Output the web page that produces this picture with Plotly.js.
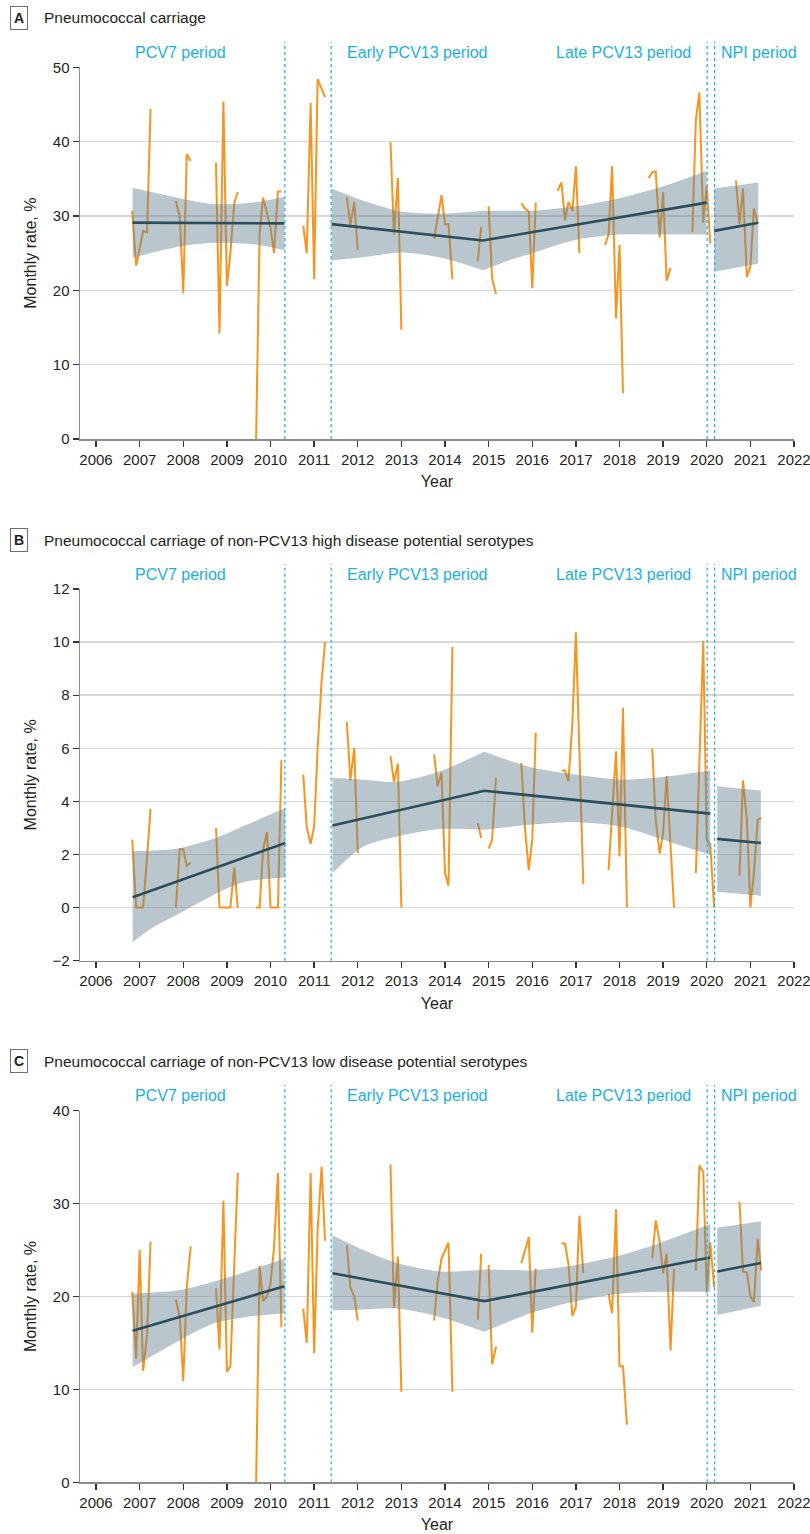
<!DOCTYPE html>
<html><head><meta charset="utf-8">
<script src="https://cdn.plot.ly/plotly-3.0.1.min.js"></script>
<style>html,body{margin:0;padding:0;background:#fff}</style>
</head><body><div id="chart" style="width:810px;height:1534px"></div>
<script>
// ---------- data ----------
const panelTitles = ['Pneumococcal carriage',
  'Pneumococcal carriage of non-PCV13 high disease potential serotypes',
  'Pneumococcal carriage of non-PCV13 low disease potential serotypes'];
const panelLetters = ['A','B','C'];
const periodLabels = ['PCV7 period','Early PCV13 period','Late PCV13 period','NPI period'];
const periodBoundaries = [2010.33, 2011.39, 2020.01, 2020.18];
const yearTicks = [2006,2007,2008,2009,2010,2011,2012,2013,2014,2015,2016,2017,2018,2019,2020,2021,2022];

const monthsA = [2006.83,2006.92,2007.00,2007.08,2007.17,2007.25,null,
 2007.83,2007.92,2008.00,2008.08,2008.17,null,
 2008.75,2008.83,2008.92,2009.00,2009.08,2009.17,2009.25,null,
 2009.67,2009.75,2009.83,2009.92,2010.00,2010.08,2010.17,2010.25,null,
 2010.75,2010.83,2010.92,2011.00,2011.08,2011.17,2011.25,null,
 2011.75,2011.83,2011.92,2012.00,null,
 2012.75,2012.83,2012.92,2013.00,null,
 2013.75,2013.83,2013.92,2014.00,2014.08,2014.17,null,
 2014.75,2014.83,null,2015.00,2015.08,2015.17,null,
 2015.75,2015.83,2015.92,2016.00,2016.08,null,
 2016.58,2016.67,2016.75,2016.83,2016.92,2017.00,2017.08,null,
 2017.67,2017.75,2017.83,2017.92,2018.00,2018.08,null,
 2018.67,2018.75,2018.83,2018.92,2019.00,2019.08,2019.17,null,
 2019.67,2019.75,2019.83,2019.92,2020.00,2020.08,null,
 2020.67,2020.75,2020.83,2020.92,2021.00,2021.08,2021.17];
const rateA = [30.7,23.3,25.6,28.0,27.8,44.4,null,
 32.0,29.9,19.6,38.3,37.4,null,
 37.2,14.2,45.4,20.6,25.0,31.8,33.2,null,
 0,27.7,32.5,30.4,28.4,25.0,33.3,33.3,null,
 28.7,25.0,45.2,21.5,48.4,47.0,46.0,null,
 32.5,28.8,31.9,25.4,null,
 39.9,27.5,35.1,14.7,null,
 26.9,29.9,32.8,28.9,28.9,21.5,null,
 23.9,28.5,null,31.3,21.6,19.5,null,
 31.7,31.0,30.6,20.3,31.8,null,
 33.4,34.5,29.4,31.9,30.7,36.7,25.0,null,
 26.1,27.5,36.7,16.2,26.1,6.2,null,
 35.1,35.9,36.0,27.1,33.2,21.3,23.0,null,
 27.8,42.9,46.6,29.1,34.0,26.3,null,
 34.8,28.9,33.7,21.8,23.2,31.0,29.0];

const monthsBC = [2006.83,2006.92,2007.00,2007.08,2007.17,2007.25,null,
 2007.83,2007.92,2008.00,2008.08,2008.17,null,
 2008.75,2008.83,2008.92,2009.00,2009.08,2009.17,2009.25,null,
 2009.67,2009.75,2009.83,2009.92,2010.00,2010.08,2010.17,2010.25,null,
 2010.75,2010.83,2010.92,2011.00,2011.08,2011.17,2011.25,null,
 2011.75,2011.83,2011.92,2012.00,null,
 2012.75,2012.83,2012.92,2013.00,null,
 2013.75,2013.83,2013.92,2014.00,2014.08,2014.17,null,
 2014.75,2014.83,null,2015.00,2015.08,2015.17,null,
 2015.75,2015.83,2015.92,2016.00,2016.08,null,
 2016.67,2016.75,2016.83,2016.92,2017.00,2017.08,2017.17,null,
 2017.75,2017.83,2017.92,2018.00,2018.08,2018.17,null,
 2018.75,2018.83,2018.92,2019.00,2019.08,2019.17,2019.25,null,
 2019.75,2019.83,2019.92,2020.00,2020.08,2020.17,null,
 2020.75,2020.83,2020.92,2021.00,2021.08,2021.17,2021.25];
const rateB = [2.56,0,0,0,1.9,3.72,null,
 0,2.2,2.2,1.57,1.7,null,
 3.0,0,0,0,0,1.52,0,null,
 0,0,2.2,2.85,0,0,0,5.57,null,
 5.01,3.03,2.4,3.06,6.0,8.5,10.0,null,
 6.99,4.79,6.02,2.05,null,
 5.71,4.74,5.42,0,null,
 5.77,4.57,5.08,1.30,0.82,9.82,null,
 3.19,2.62,null,2.22,2.56,4.89,null,
 5.45,3.06,1.42,2.56,6.59,null,
 5.16,5.16,4.76,6.96,10.37,5.6,0.89,null,
 1.42,3.7,5.89,1.93,7.53,0,null,
 5.99,3.31,2.03,2.81,4.95,2.3,0,null,
 1.30,5.67,10.04,2.56,2.37,0,null,
 1.20,4.79,3.31,0,1.3,3.31,3.38];
const rateC = [20.5,13.3,25.0,12.0,15.8,25.9,null,
 19.7,17.8,10.9,21.0,25.4,null,
 20.9,14.3,30.3,11.9,12.5,22.8,33.3,null,
 0,23.3,19.5,20.0,21.4,25.3,33.3,16.7,null,
 18.7,15.0,33.3,13.9,27.1,34.0,26.0,null,
 25.5,21.0,20.0,17.4,null,
 34.2,18.8,24.3,9.75,null,
 17.4,21.5,24.1,25.0,25.8,9.75,null,
 17.5,24.6,null,23.4,12.7,14.6,null,
 23.6,25.0,26.4,16.1,23.0,null,
 25.7,25.7,23.5,17.9,18.9,28.7,22.5,null,
 20.3,18.2,29.4,12.5,12.5,6.2,null,
 24.1,28.2,25.9,22.5,24.6,14.2,23.0,null,
 22.8,34.1,33.4,20.4,25.8,21.0,null,
 30.2,22.7,22.6,20.0,19.4,26.2,22.8];

// fitted trend lines
const fitA_x = [2006.84,2010.32,null,2011.40,2014.87,2020.00,null,2020.17,2021.18];
const fitA_y = [29.1,29.0,null,28.9,26.7,31.8,null,28.0,29.1];
const fitB_x = [2006.84,2010.34,null,2011.42,2014.90,2020.08,null,2020.24,2021.24];
const fitB_y = [0.39,2.43,null,3.09,4.40,3.54,null,2.59,2.43];
const fitC_x = [2006.84,2010.32,null,2011.42,2014.90,2020.08,null,2020.24,2021.24];
const fitC_y = [16.3,21.1,null,22.5,19.5,24.2,null,22.7,23.6];

// confidence bands (one list per period)
const bandA_x  = [[2006.84,2007.92,2008.69,2009.60,2010.32],[2011.40,2012.20,2013.00,2013.90,2014.87],[2014.87,2015.50,2016.00,2017.00,2018.00,2019.00,2020.00],[2020.17,2021.18]];
const bandA_hi = [[33.8,32.4,31.6,31.8,32.6],[33.7,31.9,30.6,30.3,30.7],[30.7,30.7,30.7,31.3,32.4,34.0,36.1],[33.7,34.5]];
const bandA_lo = [[24.4,25.9,26.4,26.2,25.4],[24.0,24.5,25.1,24.4,22.7],[22.7,24.1,25.0,26.8,27.5,27.5,27.5],[22.5,23.6]];
const bandB_x  = [[2006.84,2007.30,2007.92,2008.84,2009.45,2010.34],[2011.42,2012.13,2012.90,2013.89,2014.90],[2014.90,2015.94,2017.00,2018.00,2019.00,2020.08],[2020.24,2021.24]];
const bandB_hi = [[2.12,2.15,2.24,2.68,3.12,3.75],[4.89,4.82,4.74,5.14,5.87],[5.87,5.30,5.01,4.82,4.92,5.16],[4.57,4.41]];
const bandB_lo = [[-1.3,-0.75,-0.21,0.60,0.98,1.13],[1.30,2.30,2.68,2.96,2.93],[2.93,3.12,3.21,3.06,2.56,1.99],[0.60,0.45]];
const bandC_x  = [[2006.84,2007.92,2008.69,2009.45,2010.32],[2011.42,2012.13,2012.90,2013.89,2014.90],[2014.90,2015.56,2015.95,2017.00,2018.00,2019.00,2020.08],[2020.24,2021.24]];
const bandC_hi = [[20.3,20.7,21.6,22.7,24.1],[26.6,25.0,23.6,22.7,22.9],[22.9,22.85,22.8,23.4,24.4,25.9,27.8],[27.4,28.1]];
const bandC_lo = [[12.4,15.3,17.1,17.8,18.2],[18.5,18.6,18.7,17.8,16.2],[16.2,17.5,18.2,19.5,20.3,20.5,20.5],[18.0,19.0]];

const yRanges = [[0,50],[-2,12],[0,40]];
const yTickVals = [[0,10,20,30,40,50],[-2,0,2,4,6,8,10,12],[0,10,20,30,40]];

// ---------- styling / layout ----------
const H = 1534, W = 810;
const FONT = '"Liberation Sans", Arial, sans-serif';
const ORANGE = '#F7941D', FIT = '#2B4D5C', BAND = 'rgba(100,128,145,0.45)', CYAN = '#1AAFE6';
const plotTopPx = [67.3, 589, 1110.7], plotBotPx = [439, 960.7, 1482.3];
const titlePx = [18, 540, 1061], periodPx = [52, 574, 1095], dotTopPx = [42, 564, 1085];
const py = p => 1 - p / H;

const panels = [
  {months: monthsA, rate: rateA, fx: fitA_x, fy: fitA_y, bx: bandA_x, bh: bandA_hi, bl: bandA_lo},
  {months: monthsBC, rate: rateB, fx: fitB_x, fy: fitB_y, bx: bandB_x, bh: bandB_hi, bl: bandB_lo},
  {months: monthsBC, rate: rateC, fx: fitC_x, fy: fitC_y, bx: bandC_x, bh: bandC_hi, bl: bandC_lo}
];

const data = [];
const layout = {
  width: W, height: H, margin: {l:0, r:0, t:0, b:0},
  paper_bgcolor: '#fff', plot_bgcolor: '#fff', showlegend: false,
  font: {family: FONT, color: '#231f20', size: 15},
  annotations: [], shapes: []
};

panels.forEach((p, i) => {
  const sfx = i === 0 ? '' : String(i + 1);
  const xa = 'x' + sfx, ya = 'y' + sfx;
  data.push({x: p.months, y: p.rate, xaxis: xa, yaxis: ya, type: 'scatter', mode: 'lines',
    line: {color: ORANGE, width: 2}, connectgaps: false, hoverinfo: 'skip'});
  p.bx.forEach((bx, k) => {
    data.push({x: bx, y: p.bl[k], xaxis: xa, yaxis: ya, type: 'scatter', mode: 'lines',
      line: {width: 0, shape: 'spline', smoothing: 0.8}, hoverinfo: 'skip'});
    data.push({x: bx, y: p.bh[k], xaxis: xa, yaxis: ya, type: 'scatter', mode: 'lines',
      line: {width: 0, shape: 'spline', smoothing: 0.8}, fill: 'tonexty', fillcolor: BAND, hoverinfo: 'skip'});
  });
  data.push({x: p.fx, y: p.fy, xaxis: xa, yaxis: ya, type: 'scatter', mode: 'lines',
    line: {color: FIT, width: 2.6}, connectgaps: false, hoverinfo: 'skip'});

  layout['xaxis' + sfx] = {
    domain: [80 / W, 794 / W], anchor: ya, range: [2005.633, 2022.0],
    tickmode: 'array', tickvals: yearTicks, ticktext: yearTicks.map(String),
    ticklabeloverflow: 'allow',
    showgrid: false, zeroline: false, showline: true, linecolor: '#8c8c8c', linewidth: 1.5,
    ticks: 'outside', ticklen: 6, tickwidth: 1.3, tickcolor: '#333',
    tickfont: {family: FONT, size: 15, color: '#231f20'},
    title: {text: 'Year', font: {family: FONT, size: 16, color: '#231f20'}, standoff: 9}
  };
  layout['yaxis' + sfx] = {
    domain: [py(plotBotPx[i]), py(plotTopPx[i])], anchor: xa, range: yRanges[i],
    tickmode: 'array', tickvals: yTickVals[i],
    showgrid: true, gridcolor: '#d9d9d9', gridwidth: 1.5, zeroline: false,
    showline: true, linecolor: '#8c8c8c', linewidth: 1.5,
    ticks: 'outside', ticklen: 6, tickwidth: 1.3, tickcolor: '#333',
    tickfont: {family: FONT, size: 15, color: '#231f20'},
    title: {text: 'Monthly rate, %', font: {family: FONT, size: 16, color: '#231f20'}, standoff: 12}
  };

  // panel letter box + title
  layout.annotations.push({xref: 'paper', yref: 'paper', x: 18.5 / W, y: py(titlePx[i]),
    xanchor: 'center', yanchor: 'middle', text: '<b>' + panelLetters[i] + '</b>', showarrow: false,
    font: {family: FONT, size: 14, color: '#231f20'}, bordercolor: '#6d6e71', borderwidth: 1, borderpad: 3, bgcolor: '#fff'});
  layout.annotations.push({xref: 'paper', yref: 'paper', x: 42 / W, y: py(titlePx[i]),
    xanchor: 'left', yanchor: 'middle', text: panelTitles[i], showarrow: false,
    font: {family: FONT, size: 15.5, color: '#231f20'}});

  // period labels
  const labelX = [2006.84, 2011.71, 2019.69, 2020.27];
  const labelAnchor = ['left', 'left', 'right', 'left'];
  periodLabels.forEach((t, k) => {
    layout.annotations.push({xref: xa, yref: 'paper', x: labelX[k], y: py(periodPx[i]),
      xanchor: labelAnchor[k], yanchor: 'middle', text: t, showarrow: false,
      font: {family: FONT, size: 16, color: CYAN}});
  });

  // period boundary dotted lines
  periodBoundaries.forEach(b => {
    layout.shapes.push({type: 'line', xref: xa, yref: 'paper', x0: b, x1: b,
      y0: py(plotBotPx[i]), y1: py(dotTopPx[i]), line: {color: CYAN, width: 1.2, dash: 'dot'}});
  });
});

Plotly.newPlot('chart', data, layout, {displayModeBar: false, staticPlot: true});
</script></body></html>
